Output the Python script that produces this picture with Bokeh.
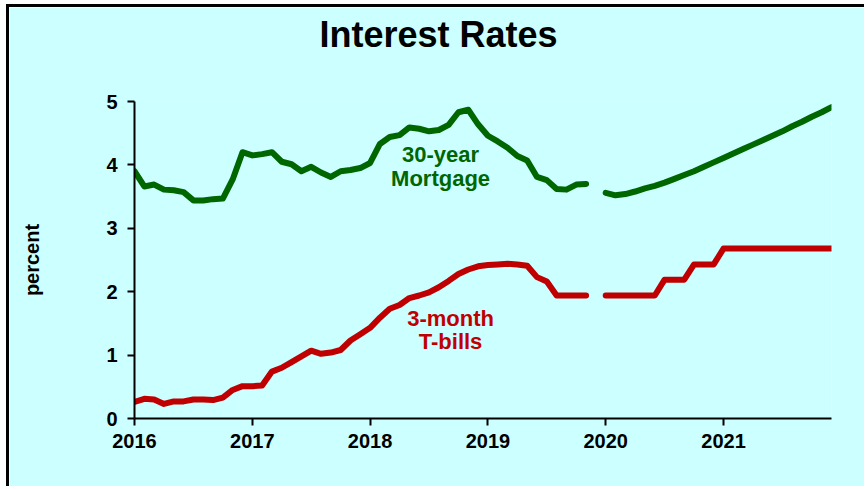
from bokeh.plotting import figure
from bokeh.models import Range1d, FixedTicker, Label, Title
from bokeh.embed import file_html
from bokeh.resources import INLINE

nan = float("nan")

# Monthly data, Jan 2016 .. Dec 2021 (Dec 2019 missing -> gap)
start_year = 2016
n_months = 72

mortgage_30yr = [
    3.90, 3.66, 3.69, 3.61, 3.60, 3.57, 3.44, 3.44, 3.46, 3.47, 3.77, 4.20,
    4.15, 4.17, 4.20, 4.05, 4.01, 3.90, 3.97, 3.88, 3.81, 3.90, 3.92, 3.95,
    4.03, 4.33, 4.44, 4.47, 4.59, 4.57, 4.53, 4.55, 4.63, 4.83, 4.87, 4.64,
    4.46, 4.37, 4.27, 4.14, 4.07, 3.81, 3.76, 3.62, 3.61, 3.69, 3.70, nan,
    3.56, 3.52, 3.54, 3.58, 3.63, 3.67, 3.72, 3.78, 3.84, 3.90, 3.97, 4.04,
    4.11, 4.18, 4.25, 4.32, 4.39, 4.46, 4.53, 4.61, 4.68, 4.76, 4.83, 4.91,
]

tbills_3m = [
    0.26, 0.31, 0.30, 0.23, 0.27, 0.27, 0.30, 0.30, 0.29, 0.33, 0.45, 0.51,
    0.51, 0.52, 0.74, 0.80, 0.89, 0.98, 1.07, 1.02, 1.04, 1.08, 1.23, 1.33,
    1.43, 1.59, 1.73, 1.79, 1.90, 1.94, 1.99, 2.07, 2.17, 2.28, 2.35, 2.40,
    2.42, 2.43, 2.44, 2.43, 2.41, 2.23, 2.16, 1.94, 1.94, 1.94, 1.94, nan,
    1.94, 1.94, 1.94, 1.94, 1.94, 1.94, 2.19, 2.19, 2.19, 2.43, 2.43, 2.43,
    2.68, 2.68, 2.68, 2.68, 2.68, 2.68, 2.68, 2.68, 2.68, 2.68, 2.68, 2.68,
]

year_ticks = [2016, 2017, 2018, 2019, 2020, 2021]
y_ticks = [0, 1, 2, 3, 4, 5]

x = [start_year + i / 12 for i in range(n_months)]

BG = "#CCFFFF"
GREEN = "#006600"
RED = "#C00000"
FONT = "Liberation Sans"

p = figure(
    width=858, height=482, title=None,
    x_range=Range1d(start_year, start_year + (n_months - 1) / 12),
    y_range=Range1d(0, 5),
    output_backend="svg", toolbar_location=None,
    min_border_left=125, min_border_right=36,
    min_border_top=94, min_border_bottom=71,
)
p.styles = {"margin-left": "6px", "margin-top": "4px",
            "border-left": "3px solid black", "border-top": "3px solid black"}
p.background_fill_color = BG
p.border_fill_color = BG
p.outline_line_color = None
p.xgrid.visible = False
p.ygrid.visible = False

for ax in (p.xaxis[0], p.yaxis[0]):
    ax.axis_line_color = "black"
    ax.axis_line_width = 2
    ax.major_tick_line_color = "black"
    ax.major_tick_line_width = 2
    ax.major_tick_out = 7
    ax.major_tick_in = 0
    ax.minor_tick_line_color = None
    ax.major_label_text_font = FONT
    ax.major_label_text_font_style = "bold"
    ax.major_label_text_font_size = "20px"
    ax.major_label_text_color = "black"

p.xaxis.ticker = FixedTicker(ticks=year_ticks)
p.yaxis.ticker = FixedTicker(ticks=y_ticks)
p.xaxis.major_label_standoff = 8
p.yaxis.major_label_standoff = 10

# spacer + chart title (above)
p.add_layout(Title(text=" ", text_font=FONT, text_font_size="10px",
                   standoff=34), "above")
p.add_layout(Title(text="Interest Rates", align="left", offset=185, standoff=0,
                   text_font=FONT, text_font_style="bold",
                   text_font_size="36px", text_color="black"), "above")

# spacer + y axis title (left)
p.add_layout(Title(text=" ", text_font=FONT, text_font_size="10px",
                   standoff=48), "left")
p.add_layout(Title(text="percent", align="center", standoff=0,
                   text_font=FONT, text_font_style="bold",
                   text_font_size="20px", text_color="black"), "left")

p.line(x, mortgage_30yr, line_color=GREEN, line_width=6,
       line_join="round", line_cap="round")
p.line(x, tbills_3m, line_color=RED, line_width=6,
       line_join="round", line_cap="round")

def add_label(text, xx, yy, color):
    p.add_layout(Label(x=xx, y=yy, text=text, x_units="data", y_units="data",
                       text_font=FONT, text_font_style="bold",
                       text_font_size="22px", text_color=color,
                       text_align="center", text_baseline="middle"))

add_label("30-year", 2018.598, 4.164, GREEN)
add_label("Mortgage", 2018.598, 3.785, GREEN)
add_label("3-month", 2018.683, 1.577, RED)
add_label("T-bills", 2018.683, 1.215, RED)

open("out.html", "w").write(file_html(p, INLINE))
